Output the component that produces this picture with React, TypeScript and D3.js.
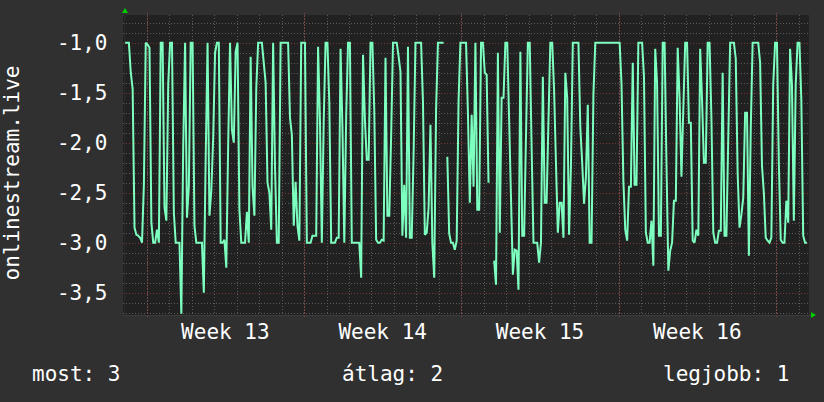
import * as d3 from 'd3';

// 2-hour samples, first sample at 2024-03-24 01:00 UTC (null = no data)
const startIso = '2024-03-24T01:00:00Z';
const stepHours = 2;
const values: (number | null)[] = [
    -1.0, -1.0, -1.0, -1.3, -1.46, -2.85, -2.92, -2.93, -2.95, -3.0,
    -2.42, -1.0, -1.02, -1.05, -2.8, -3.0, -3.0, -2.87, -3.0, -1.0,
    -1.0, -2.65, -2.78, -1.41, -1.0, -1.0, -2.7, -3.0, -3.0, -3.0,
    -3.71, -2.04, -1.0, -2.75, -2.44, -1.0, -1.0, -2.83, -3.0, -3.0,
    -3.0, -3.0, -3.5, -2.15, -1.0, -2.73, -2.48, -1.95, -1.1, -1.0,
    -1.0, -3.0, -3.0, -2.97, -3.25, -2.02, -1.0, -1.87, -2.0, -1.09,
    -1.0, -2.67, -3.0, -3.0, -3.0, -2.69, -3.0, -1.14, -2.44, -2.73,
    -1.46, -1.0, -1.0, -1.0, -1.2, -1.4, -2.4, -2.5, -2.87, -1.0,
    -2.24, -3.0, -3.0, -1.0, -1.0, -1.0, -1.0, -1.0, -1.75, -1.92,
    -2.83, -2.39, -2.83, -2.98, -1.0, -1.0, -1.0, -3.0, -3.0, -3.0,
    -2.93, -2.93, -2.93, -1.04, -1.77, -3.0, -1.79, -1.0, -1.0, -1.6,
    -3.0, -3.0, -3.0, -2.95, -2.95, -1.06, -1.84, -3.0, -1.74, -1.0,
    -1.0, -3.0, -3.0, -3.0, -3.0, -3.0, -3.35, -1.12, -1.77, -2.17,
    -2.17, -1.0, -1.0, -1.67, -2.97, -3.0, -3.0, -2.97, -2.98, -1.15,
    -2.73, -2.73, -1.94, -1.0, -1.0, -1.0, -1.14, -1.29, -2.93, -2.42,
    -2.95, -1.04, -2.95, -2.95, -2.1, -1.0, -1.0, -1.0, -1.0, -1.59,
    -2.92, -2.9, -2.65, -1.82, -3.0, -3.35, -1.67, -1.0, -1.0, -1.0,
    -1.0, null, -2.14, -2.91, -3.0, -3.0, -3.07, -2.98, -1.58, -1.0,
    -1.0, -1.0, -1.0, -1.7, -2.6, -1.72, -2.44, -1.0, -2.67, -2.67,
    -1.0, -1.0, -1.3, -1.32, -2.4, null, null, -3.18, -3.42, -1.1,
    -2.9, -1.55, -1.55, -1.0, -1.0, -1.77, -2.55, -3.32, -3.07, -3.08,
    -3.47, -1.09, -2.93, -2.93, -1.94, -1.0, -1.0, -2.04, -3.0, -3.0,
    -3.0, -3.2, -3.0, -1.34, -2.6, -2.6, -1.78, -1.0, -1.0, -1.47,
    -2.2, -2.9, -2.6, -2.6, -2.95, -1.3, -1.55, -2.92, -2.24, -1.0,
    -1.0, -1.0, -1.0, -1.84, -2.2, -2.61, -2.34, -1.62, -3.0, -3.0,
    -1.52, -1.0, -1.0, -1.0, -1.0, -1.0, -1.0, -1.0, -1.0, -1.0,
    -1.0, -1.0, -1.0, -1.0, -1.0, -1.41, -2.38, -2.87, -2.98, -2.44,
    -2.44, -1.2, -2.42, -2.42, -1.0, -1.0, -1.0, -1.34, -2.9, -3.0,
    -3.0, -2.78, -3.23, -1.06, -1.41, -2.93, -2.93, -1.0, -1.0, -2.2,
    -3.28, -3.08, -3.0, -2.58, -2.58, -1.05, -1.55, -2.34, -1.66, -1.0,
    -1.0, -1.8, -1.8, -2.98, -3.0, -2.87, -2.93, -1.06, -1.57, -2.2,
    -2.2, -1.0, -1.0, -1.75, -2.9, -3.0, -3.0, -2.88, -2.88, -1.3,
    -2.93, -2.93, -1.95, -1.0, -1.0, -1.0, -1.16, -2.3, -2.85, -2.72,
    -2.55, -1.7, -1.7, -3.13, -1.87, -1.0, -1.0, -1.0, -1.0, -1.2,
    -2.23, -2.5, -2.95, -2.98, -3.0, -2.95, -1.42, -1.0, -1.0, -2.2,
    -2.97, -3.0, -3.0, -2.58, -2.8, -1.06, -1.42, -2.78, -1.42, -1.0,
    -1.0, -1.57, -2.93, -3.0, -3.0,
];

const yTicks = [-1.0, -1.5, -2.0, -2.5, -3.0, -3.5];
const yLabel = 'onlinestream.live';
const legendItems = ['most: 3', 'átlag: 2', 'legjobb: 1'];

const W = 824;
const H = 402;
const plot = { left: 123, right: 809, top: 15, bottom: 315 };
const FONT = '"DejaVu Sans Mono", monospace';
const HOUR = 3600 * 1000;

export default function App() {
    const start = new Date(startIso).getTime();
    const week13 = start + 23 * HOUR; // Monday 00:00

    const data = values.map((v, i) => ({ t: new Date(start + i * stepHours * HOUR), v }));

    const x = d3.scaleUtc()
        .domain([new Date(week13 - 25.3 * HOUR), new Date(week13 + 707.2 * HOUR)])
        .range([plot.left, plot.right]);
    const y = d3.scaleLinear()
        .domain([-3.723, -0.723])
        .range([plot.bottom, plot.top]);

    const line = d3.line<{ t: Date; v: number | null }>()
        .defined(d => d.v != null)
        .x(d => x(d.t))
        .y(d => y(d.v as number));

    // grid
    const [d0, d1] = x.domain();
    const days = d3.utcDay.range(d0, d1);
    const mondays = d3.utcMonday.range(d0, d1);
    const minorY = d3.range(-37, -7).map(k => k / 10);

    const weekLabels = mondays
        .map(m => ({ m, mid: new Date(m.getTime() + 3.5 * 24 * HOUR) }))
        .filter(w => w.mid >= d0 && w.mid <= d1);
    const fmtWeek = d3.utcFormat('%V');
    const fmtY = (v: number) => d3.format('.1f')(v).replace('.', ',').replace('−', '-');

    const legendX = [32, 342, 663];

    return (
        <div style={{ position: 'fixed', left: 0, top: 0 }}>
            <svg width={W} height={H} style={{ display: 'block' }}>
                <rect width={W} height={H} fill="#303030" />
                <rect x={plot.left} y={plot.top} width={plot.right - plot.left} height={plot.bottom - plot.top} fill="#212121" />

                {/* horizontal grid */}
                {minorY.map(v => (
                    <line key={'hy' + v} x1={plot.left} x2={plot.right} y1={Math.round(y(v)) + 0.5} y2={Math.round(y(v)) + 0.5}
                        stroke="#5a5a5a" strokeDasharray="1,2" />
                ))}
                {yTicks.map(v => (
                    <line key={'hm' + v} x1={plot.left} x2={plot.right} y1={Math.round(y(v)) + 0.5} y2={Math.round(y(v)) + 0.5}
                        stroke="#7a3434" strokeDasharray="1,2" />
                ))}

                {/* vertical grid */}
                {days.map(d => (
                    <line key={'vd' + d.getTime()} x1={Math.round(x(d)) + 0.5} x2={Math.round(x(d)) + 0.5} y1={plot.top} y2={plot.bottom + 3}
                        stroke="#5a5a5a" strokeDasharray="1,2" />
                ))}
                {mondays.map(d => (
                    <line key={'vm' + d.getTime()} x1={Math.round(x(d)) + 0.5} x2={Math.round(x(d)) + 0.5} y1={plot.top - 2} y2={plot.bottom + 3}
                        stroke="#8a3a3a" strokeDasharray="1,2" />
                ))}

                {/* axes */}
                <line x1={plot.left} x2={plot.right + 2} y1={plot.bottom + 0.5} y2={plot.bottom + 0.5} stroke="#3c3c3c" />
                <line x1={plot.left + 1.5} x2={plot.left + 1.5} y1={plot.top - 2} y2={plot.bottom} stroke="#2a2a2a" />
                <path d={`M${plot.left + 2},8 L${plot.left - 1},13 L${plot.left + 5},13 Z`} fill="#00cc00" />
                <path d={`M${plot.right + 7},${plot.bottom} L${plot.right + 2},${plot.bottom - 3} L${plot.right + 2},${plot.bottom + 3} Z`} fill="#00cc00" />

                {/* series */}
                <path d={line(data) || ''} fill="none" stroke="#7dffbf" strokeWidth={2} strokeLinejoin="miter" strokeMiterlimit={2} />

                {/* y tick labels */}
                {yTicks.map(v => (
                    <text key={'yl' + v} x={107.5} y={y(v)} dy="0.35em" textAnchor="end" fill="#ffffff"
                        fontFamily={FONT} fontSize={21}>{fmtY(v)}</text>
                ))}
                <text transform={`translate(18.5,${(plot.top + plot.bottom) / 2 + 8}) rotate(-90)`} textAnchor="middle" fill="#ffffff"
                    fontFamily={FONT} fontSize={21}>{yLabel}</text>

                {/* week labels */}
                {weekLabels.map(w => (
                    <text key={'wl' + w.m.getTime()} x={x(w.mid)} y={339} textAnchor="middle" fill="#ffffff"
                        fontFamily={FONT} fontSize={21}>{'Week ' + +fmtWeek(w.m)}</text>
                ))}

                {/* legend */}
                {legendItems.map((s, i) => (
                    <text key={s} x={legendX[i]} y={381} fill="#ffffff" fontFamily={FONT} fontSize={21}>{s}</text>
                ))}
            </svg>
        </div>
    );
}
